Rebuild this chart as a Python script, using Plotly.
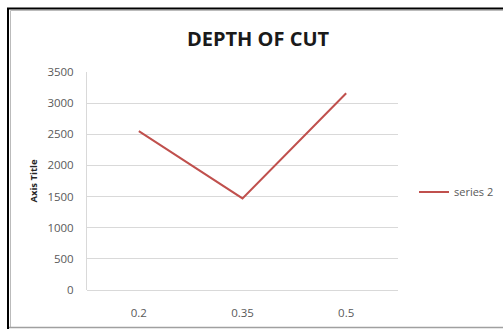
import plotly.graph_objects as go

# Depth of cut values per category
categories = ["0.2", "0.35", "0.5"]
series_2 = [2550, 1470, 3160]
y_ticks = [0, 500, 1000, 1500, 2000, 2500, 3000, 3500]

W, H = 503, 329
L, R, T, B = 87, 105, 72, 39
pw, ph = W - L - R, H - T - B


def px_x(px):
    return (px - L) / pw


def px_y(py):
    return (H - B - py) / ph


fig = go.Figure()
fig.add_trace(go.Scatter(
    x=categories, y=series_2, mode="lines", name="series 2",
    line=dict(color="#c0504d", width=2),
))

tick_font = dict(family="Open Sans, sans-serif", size=11.5, color="#595959")

fig.update_layout(
    width=W, height=H,
    margin=dict(l=L, r=R, t=T, b=B, autoexpand=False),
    paper_bgcolor="white", plot_bgcolor="white",
    title=dict(text="<b>DEPTH OF CUT</b>", x=px_x(258), xref="paper",
               xanchor="center", y=1 - 39 / H, yanchor="middle",
               font=dict(family="Open Sans, sans-serif", size=20, color="#1a1a1a")),
    xaxis=dict(type="category", range=[-0.5, 2.5], showgrid=False,
               showline=False, ticks="", tickfont=tick_font, zeroline=False,
               ticklabelstandoff=14, automargin=False),
    yaxis=dict(range=[0, 3500], tickvals=y_ticks, showgrid=True,
               gridcolor="#d9d9d9", gridwidth=1, showline=True,
               linecolor="#d9d9d9", linewidth=1, zeroline=True,
               zerolinecolor="#d9d9d9", zerolinewidth=1, ticks="",
               tickfont=tick_font, ticklabelstandoff=10, automargin=False,
               title=dict(text="<b>Axis Title</b>", standoff=8,
                          font=dict(family="Open Sans, sans-serif", size=9.5,
                                    color="#262626"))),
    showlegend=True,
    legend=dict(x=px_x(414), y=px_y(192), xanchor="left", yanchor="middle",
                font=dict(family="Open Sans, sans-serif", size=11, color="#595959"),
                bgcolor="rgba(0,0,0,0)", itemwidth=30),
)

# Outer frame around the chart
frame = dict(type="line", xref="paper", yref="paper")
fig.add_shape(**frame, x0=px_x(8), x1=px_x(8), y0=px_y(8.5), y1=px_y(329),
              line=dict(color="black", width=2))
fig.add_shape(**frame, x0=px_x(7), x1=px_x(503), y0=px_y(8.5), y1=px_y(8.5),
              line=dict(color="black", width=2))
fig.add_shape(**frame, x0=px_x(10.5), x1=px_x(10.5), y0=px_y(10.5), y1=px_y(327.5),
              line=dict(color="#bbbbbb", width=1))
fig.add_shape(**frame, x0=px_x(10.5), x1=px_x(503), y0=px_y(10.5), y1=px_y(10.5),
              line=dict(color="#bbbbbb", width=1))
fig.add_shape(**frame, x0=px_x(9), x1=px_x(503), y0=px_y(327.5), y1=px_y(327.5),
              line=dict(color="#a0a0a0", width=1.5))

fig.write_html("out.html")
